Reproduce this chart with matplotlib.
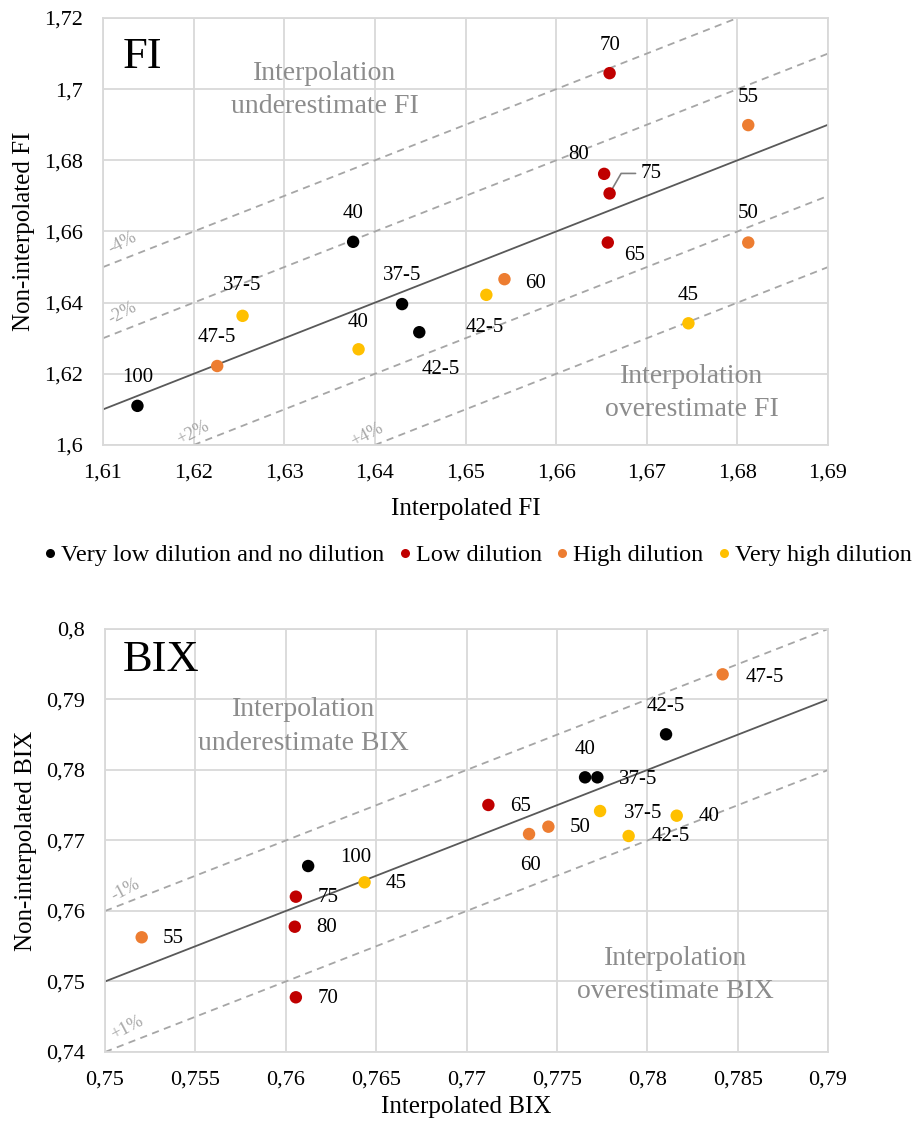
import matplotlib
matplotlib.use('Agg')
import matplotlib.pyplot as plt
from matplotlib.ticker import FuncFormatter, MultipleLocator
from matplotlib.lines import Line2D

plt.rcParams['font.family'] = ['Liberation Serif', 'DejaVu Serif']

# ---- data ---------------------------------------------------------------
GROUPS = ['Very low dilution and no dilution', 'Low dilution', 'High dilution', 'Very high dilution']
COLORS = ['#000000', '#C00000', '#ED7D31', '#FFC000']

fi_labels = ['100', '40', '37-5', '42-5', '80', '75', '70', '65',
             '47-5', '60', '55', '50', '37-5', '40', '42-5', '45']
fi_group = [0, 0, 0, 0, 1, 1, 1, 1, 2, 2, 2, 2, 3, 3, 3, 3]
fi_interp = [1.6138, 1.6376, 1.6430, 1.6449, 1.6653, 1.6659, 1.6659, 1.6657,
             1.6226, 1.6543, 1.6812, 1.6812, 1.6254, 1.6382, 1.6523, 1.6746]
fi_noninterp = [1.6110, 1.6571, 1.6396, 1.6317, 1.6762, 1.6707, 1.7045, 1.6569,
                1.6222, 1.6466, 1.6899, 1.6569, 1.6363, 1.6269, 1.6422, 1.6342]

bix_labels = ['100', '40', '37-5', '42-5', '75', '80', '70', '65',
              '55', '60', '50', '47-5', '45', '37-5', '40', '42-5']
bix_group = [0, 0, 0, 0, 1, 1, 1, 1, 2, 2, 2, 2, 3, 3, 3, 3]
bix_interp = [0.76124, 0.77656, 0.77724, 0.78104, 0.76056, 0.76050, 0.76056, 0.77121,
              0.75203, 0.77346, 0.77453, 0.78417, 0.76436, 0.77739, 0.78163, 0.77897]
bix_noninterp = [0.76638, 0.77896, 0.77896, 0.78506, 0.76203, 0.75777, 0.74776, 0.77504,
                 0.75627, 0.77092, 0.77196, 0.79357, 0.76407, 0.77418, 0.77352, 0.77064]

fi_offsets = [0.0, 0.02, 0.04, -0.02, -0.04]
fi_offset_names = ['', '-2%', '-4%', '+2%', '+4%']
bix_offsets = [0.0, 0.01, -0.01]
bix_offset_names = ['', '-1%', '+1%']

# label offsets in pixels (dx right, dy down)
fi_lab_px = [(0, -28), (0, -28), (0, -29), (21, 37), (-26, -19), (44, -20), (0, -28), (27, 13),
             (0, -29), (31, 4), (0, -28), (0, -29), (0, -30), (0, -27), (-2, 33), (0, -28)]
bix_lab_px = [(48, -9), (0, -28), (41, 2), (0, -28), (32, 1), (32, 1), (32, 1), (32, 2),
              (31, 1), (1, 31), (32, 1), (42, 3), (32, 1), (43, 2), (32, 1), (42, 1)]

GRID = '#D9D9D9'
GRAYTXT = '#8C8C8C'
DASH = '#A6A6A6'


def comma(v, pos):
    return ('%g' % round(v, 4)).replace('.', ',')


def style_axes(ax, xlim, ylim, xstep, ystep):
    ax.set_xlim(*xlim)
    ax.set_ylim(*ylim)
    ax.xaxis.set_major_locator(MultipleLocator(xstep))
    ax.yaxis.set_major_locator(MultipleLocator(ystep))
    ax.xaxis.set_major_formatter(FuncFormatter(comma))
    ax.yaxis.set_major_formatter(FuncFormatter(comma))
    ax.grid(True, color=GRID, lw=1.3)
    ax.set_axisbelow(True)
    for s in ax.spines.values():
        s.set_color(GRID)
        s.set_linewidth(1.3)
    ax.tick_params(length=0, labelsize=16)
    ax.tick_params(axis='x', pad=13)
    ax.tick_params(axis='y', pad=14.5)


def draw_panel(ax, xs, ys, groups, labels, lab_px, offsets, offnames, offpos, rot):
    for off in offsets:
        if off == 0:
            ax.axline((xs[0], xs[0]), slope=1, color='#595959', lw=1.3, zorder=2)
        else:
            ax.axline((xs[0], xs[0] + off), slope=1, color=DASH, lw=1.3,
                      ls=(0, (4, 3)), zorder=2)
    for name, (tx, ty) in zip(offnames[1:], offpos):
        ax.text(tx, ty, name, color=DASH, fontsize=13, rotation=rot,
                ha='center', va='center', zorder=3)
    for x, y, g in zip(xs, ys, groups):
        ax.scatter(x, y, s=80, color=COLORS[g], edgecolors='none', zorder=4)
    for x, y, lab, (dx, dy) in zip(xs, ys, labels, lab_px):
        if lab:
            ax.annotate(lab, (x, y), xytext=(dx * 0.72, -dy * 0.72), textcoords='offset points',
                        ha='center', va='center', fontsize=15, zorder=5)


fig = plt.figure(figsize=(9.21, 11.23), dpi=100)
W, H = 921, 1123

# ---- FI panel ------------------------------------------------------------
ax1 = fig.add_axes([103 / W, 1 - 445 / H, 725 / W, 427 / H])
style_axes(ax1, (1.61, 1.69), (1.60, 1.72), 0.01, 0.02)
draw_panel(ax1, fi_interp, fi_noninterp, fi_group,
           [l if i != 5 else '' for i, l in enumerate(fi_labels)], fi_lab_px,
           fi_offsets, fi_offset_names,
           [(1.6122, 1.6371), (1.6121, 1.6568), (1.6199, 1.6034), (1.6391, 1.6028)], 28)
# label 75 with a leader line
ax1.annotate(fi_labels[5], (fi_interp[5], fi_noninterp[5]),
             xytext=(fi_lab_px[5][0] * 0.72 - 9, -fi_lab_px[5][1] * 0.72),
             textcoords='offset points', ha='left', va='center', fontsize=15,
             arrowprops=dict(arrowstyle='-', color='#7F7F7F', lw=1.2, relpos=(0, 0.5),
                             shrinkA=2, shrinkB=2,
                             connectionstyle='angle,angleA=0,angleB=60,rad=0'))
ax1.text(0.0276, 0.909, 'FI', transform=ax1.transAxes, fontsize=32, va='center', ha='left')
ax1.text(0.3062, 0.8314, 'Interpolation\nunderestimate FI', transform=ax1.transAxes,
         fontsize=20, color=GRAYTXT, ha='center', va='center', linespacing=1.45)
ax1.text(0.8124, 0.1218, 'Interpolation\noverestimate FI', transform=ax1.transAxes,
         fontsize=20, color=GRAYTXT, ha='center', va='center', linespacing=1.45)
ax1.set_xlabel('Interpolated FI', fontsize=18)
ax1.set_ylabel('Non-interpolated FI', fontsize=18)
ax1.xaxis.set_label_coords(0.5, -0.123)
ax1.yaxis.set_label_coords(-(103 - 35) / 725, 0.5)

# ---- BIX panel -----------------------------------------------------------
ax2 = fig.add_axes([105 / W, 1 - 1052 / H, 723 / W, 423 / H])
style_axes(ax2, (0.75, 0.79), (0.74, 0.80), 0.005, 0.01)
draw_panel(ax2, bix_interp, bix_noninterp, bix_group, bix_labels, bix_lab_px,
           bix_offsets, bix_offset_names,
           [(0.75114, 0.76298), (0.75122, 0.74340)], 28)
ax2.text(0.0245, 0.927, 'BIX', transform=ax2.transAxes, fontsize=32, va='center', ha='left')
ax2.text(0.275, 0.7695, 'Interpolation\nunderestimate BIX', transform=ax2.transAxes,
         fontsize=20, color=GRAYTXT, ha='center', va='center', linespacing=1.45)
ax2.text(0.7895, 0.182, 'Interpolation\noverestimate BIX', transform=ax2.transAxes,
         fontsize=20, color=GRAYTXT, ha='center', va='center', linespacing=1.45)
ax2.set_xlabel('Interpolated BIX', fontsize=18)
ax2.set_ylabel('Non-interpolated BIX', fontsize=18)
ax2.xaxis.set_label_coords(0.5, -0.105)
ax2.yaxis.set_label_coords(-(105 - 37) / 723, 0.5)

# ---- legend --------------------------------------------------------------
handles = [Line2D([], [], ls='none', marker='o', ms=6.5, color=c, markeredgecolor='none')
           for c in COLORS]
fig.legend(handles, GROUPS, loc='center', bbox_to_anchor=(476 / W, 1 - 555 / H), ncol=4,
           frameon=False, fontsize=17.5, handletextpad=0.05, columnspacing=0.45,
           handlelength=0.8)

fig.savefig('out.png', dpi=100)
